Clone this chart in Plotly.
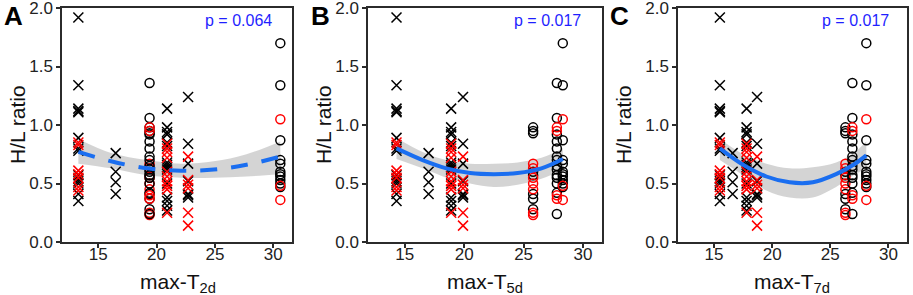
import plotly.graph_objects as go

# ---------------- data ----------------
# y values (H/L ratio) per observation group; black / red markers
g1_black = [1.92, 1.34, 1.14, 1.12, 1.11, 0.89, 0.80, 0.78, 0.57, 0.54, 0.52, 0.50, 0.41, 0.35]
g1_red = [0.85, 0.83, 0.61, 0.58, 0.55, 0.47, 0.44]
g2_black = [0.76, 0.60, 0.51, 0.41]
g2_red = []
g3_black = [1.14, 0.98, 0.94, 0.92, 0.85, 0.82, 0.68, 0.66, 0.64, 0.62, 0.50, 0.38, 0.35, 0.31, 0.27]
g3_red = [0.84, 0.80, 0.77, 0.72, 0.60, 0.56, 0.52, 0.48, 0.45, 0.25]
g4_black = [1.24, 0.84, 0.67, 0.52, 0.41, 0.40, 0.38]
g4_red = [0.73, 0.53, 0.49, 0.46, 0.25, 0.14]
g5a_black = [0.98, 0.95, 0.93, 0.60, 0.57, 0.41, 0.37, 0.28]
g5a_red = [0.67, 0.63, 0.55, 0.50, 0.45, 0.25, 0.23]
g5b_black = [1.36, 1.06, 0.92, 0.86, 0.80, 0.73, 0.70, 0.65, 0.62, 0.57, 0.55, 0.50, 0.42, 0.24]
g5b_red = [0.98, 0.95, 0.40, 0.37]
g6_black = [1.70, 1.34, 0.87, 0.70, 0.67, 0.60, 0.58, 0.56, 0.53, 0.50, 0.47]
g6_red = [1.05, 0.48, 0.36]

group_names = ["g1", "g2", "g3", "g4", "g5a", "g5b", "g6"]
group_symbol = ["x", "x", "x", "x", "o", "o", "o"]
group_black = [g1_black, g2_black, g3_black, g4_black, g5a_black, g5b_black, g6_black]
group_red = [g1_red, g2_red, g3_red, g4_red, g5a_red, g5b_red, g6_red]

# x position (max temperature) of each group in each panel
x_T2d = [13.3, 16.5, 20.9, 22.7, 19.4, 19.4, 30.6]
x_T5d = [14.3, 17.0, 18.9, 19.9, 25.8, 27.8, 28.3]
x_T7d = [15.5, 16.6, 17.8, 18.7, 26.3, 26.9, 28.1]

# quadratic fit curves with confidence bands
fitA_x = [13.3, 16.1, 19.2, 22.1, 24.9, 27.7, 30.6]
fitA_y = [0.77, 0.69, 0.63, 0.61, 0.62, 0.66, 0.73]
fitA_lo = [0.67, 0.63, 0.57, 0.55, 0.55, 0.56, 0.58]
fitA_hi = [0.88, 0.76, 0.70, 0.67, 0.69, 0.75, 0.86]

fitB_x = [14.3, 16.5, 18.5, 20.5, 22.5, 24.5, 26.5, 28.3]
fitB_y = [0.80, 0.70, 0.63, 0.59, 0.58, 0.59, 0.63, 0.71]
fitB_lo = [0.71, 0.63, 0.55, 0.50, 0.47, 0.49, 0.54, 0.62]
fitB_hi = [0.89, 0.77, 0.70, 0.67, 0.67, 0.68, 0.72, 0.80]

fitC_x = [15.5, 17.5, 19.5, 21.5, 23.5, 25.5, 27.0, 28.1]
fitC_y = [0.80, 0.66, 0.56, 0.51, 0.51, 0.58, 0.66, 0.74]
fitC_lo = [0.70, 0.57, 0.44, 0.38, 0.38, 0.47, 0.57, 0.63]
fitC_hi = [0.88, 0.75, 0.67, 0.63, 0.64, 0.68, 0.76, 0.86]

panel_letters = ["A", "B", "C"]
p_texts = ["p = 0.064", "p = 0.017", "p = 0.017"]
x_titles = ["max-T<sub>2d</sub>", "max-T<sub>5d</sub>", "max-T<sub>7d</sub>"]
y_title = "H/L ratio"
x_ticks = [15, 20, 25, 30]
y_ticks = [0.0, 0.5, 1.0, 1.5, 2.0]

# ---------------- layout helpers ----------------
W, H = 913, 295
FONT = "Liberation Sans, Arial, sans-serif"
plot_px = [(62, 292), (368, 602), (678, 907)]
y_top, y_bot = 8, 242
letter_px = [(13, 16), (320, 16), (619, 16)]
p_px = [(274, 20), (583, 20), (891, 20)]
ytitle_px = [(17, 125), (323, 125), (623, 125)]
xtitle_px = [(178, 283), (485, 283), (792, 283)]

BLUE_LINE = "#1a6ef0"
P_BLUE = "#1f1fff"
BAND = "rgba(205,205,205,0.85)"
AXIS = "#2b2b2b"

panels = [
    (x_T2d, fitA_x, fitA_y, fitA_lo, fitA_hi, "dash"),
    (x_T5d, fitB_x, fitB_y, fitB_lo, fitB_hi, "solid"),
    (x_T7d, fitC_x, fitC_y, fitC_lo, fitC_hi, "solid"),
]

fig = go.Figure()
annotations = []
for i, (xpos, fx, fy, flo, fhi, dash) in enumerate(panels):
    xa = "x" if i == 0 else f"x{i+1}"
    ya = "y" if i == 0 else f"y{i+1}"
    # confidence band
    fig.add_trace(go.Scatter(x=fx, y=flo, mode="lines", line=dict(width=0, shape="spline"),
                             xaxis=xa, yaxis=ya, showlegend=False, hoverinfo="skip"))
    fig.add_trace(go.Scatter(x=fx, y=fhi, mode="lines", line=dict(width=0, shape="spline"),
                             fill="tonexty", fillcolor=BAND,
                             xaxis=xa, yaxis=ya, showlegend=False, hoverinfo="skip"))
    # points
    for g in range(len(group_names)):
        sym = "x-thin-open" if group_symbol[g] == "x" else "circle-open"
        size = 10 if group_symbol[g] == "x" else 9
        for vals, col in ((group_black[g], "black"), (group_red[g], "red")):
            if not vals:
                continue
            fig.add_trace(go.Scatter(
                x=[xpos[g]] * len(vals), y=vals, mode="markers",
                marker=dict(symbol=sym, size=size, color=col,
                            line=dict(color=col, width=1.5)),
                xaxis=xa, yaxis=ya, showlegend=False))
    # fitted curve
    fig.add_trace(go.Scatter(x=fx, y=fy, mode="lines",
                             line=dict(color=BLUE_LINE, width=4, shape="spline",
                                       dash="17px,14px" if dash == "dash" else "solid"),
                             xaxis=xa, yaxis=ya, showlegend=False))

    x0, x1 = plot_px[i]
    fig.update_layout(**{
        ("xaxis" if i == 0 else f"xaxis{i+1}"): dict(
            domain=[x0 / W, x1 / W], range=[11.9, 31.6], tickvals=x_ticks, anchor=ya,
            ticklabelstandoff=-8),
        ("yaxis" if i == 0 else f"yaxis{i+1}"): dict(
            domain=[1 - y_bot / H, 1 - y_top / H], range=[0, 2.0005], tickvals=y_ticks,
            tickformat=".1f", anchor=xa),
    })

    lx, ly = letter_px[i]
    annotations.append(dict(text=f"<b>{panel_letters[i]}</b>", x=lx / W, y=1 - ly / H,
                            xref="paper", yref="paper", showarrow=False,
                            xanchor="center", yanchor="middle",
                            font=dict(family=FONT, size=26, color="black")))
    px_, py_ = p_px[i]
    annotations.append(dict(text=p_texts[i], x=px_ / W, y=1 - py_ / H,
                            xref="paper", yref="paper", showarrow=False,
                            xanchor="right", yanchor="middle",
                            font=dict(family=FONT, size=16, color=P_BLUE)))
    tx, ty = ytitle_px[i]
    annotations.append(dict(text=y_title, x=tx / W, y=1 - ty / H, textangle=-90,
                            xref="paper", yref="paper", showarrow=False,
                            xanchor="center", yanchor="middle",
                            font=dict(family=FONT, size=21, color="#111")))
    tx, ty = xtitle_px[i]
    annotations.append(dict(text=x_titles[i], x=tx / W, y=1 - ty / H,
                            xref="paper", yref="paper", showarrow=False,
                            xanchor="center", yanchor="middle",
                            font=dict(family=FONT, size=21, color="#111")))

common = dict(showline=True, linecolor=AXIS, linewidth=1.5, mirror=True,
              ticks="outside", ticklen=4, tickwidth=1.5, tickcolor=AXIS,
              showgrid=False, zeroline=False, ticklabeloverflow="allow",
              tickfont=dict(family=FONT, size=17, color="#222222"))
fig.update_xaxes(**common)
fig.update_yaxes(**common)

fig.update_layout(width=W, height=H, margin=dict(l=0, r=0, t=0, b=0),
                  template="none",
                  paper_bgcolor="white", plot_bgcolor="white",
                  annotations=annotations, showlegend=False)

fig.write_html("out.html", config={"displayModeBar": False},
               post_script="document.body.style.margin='0';document.body.style.overflow='hidden';")
